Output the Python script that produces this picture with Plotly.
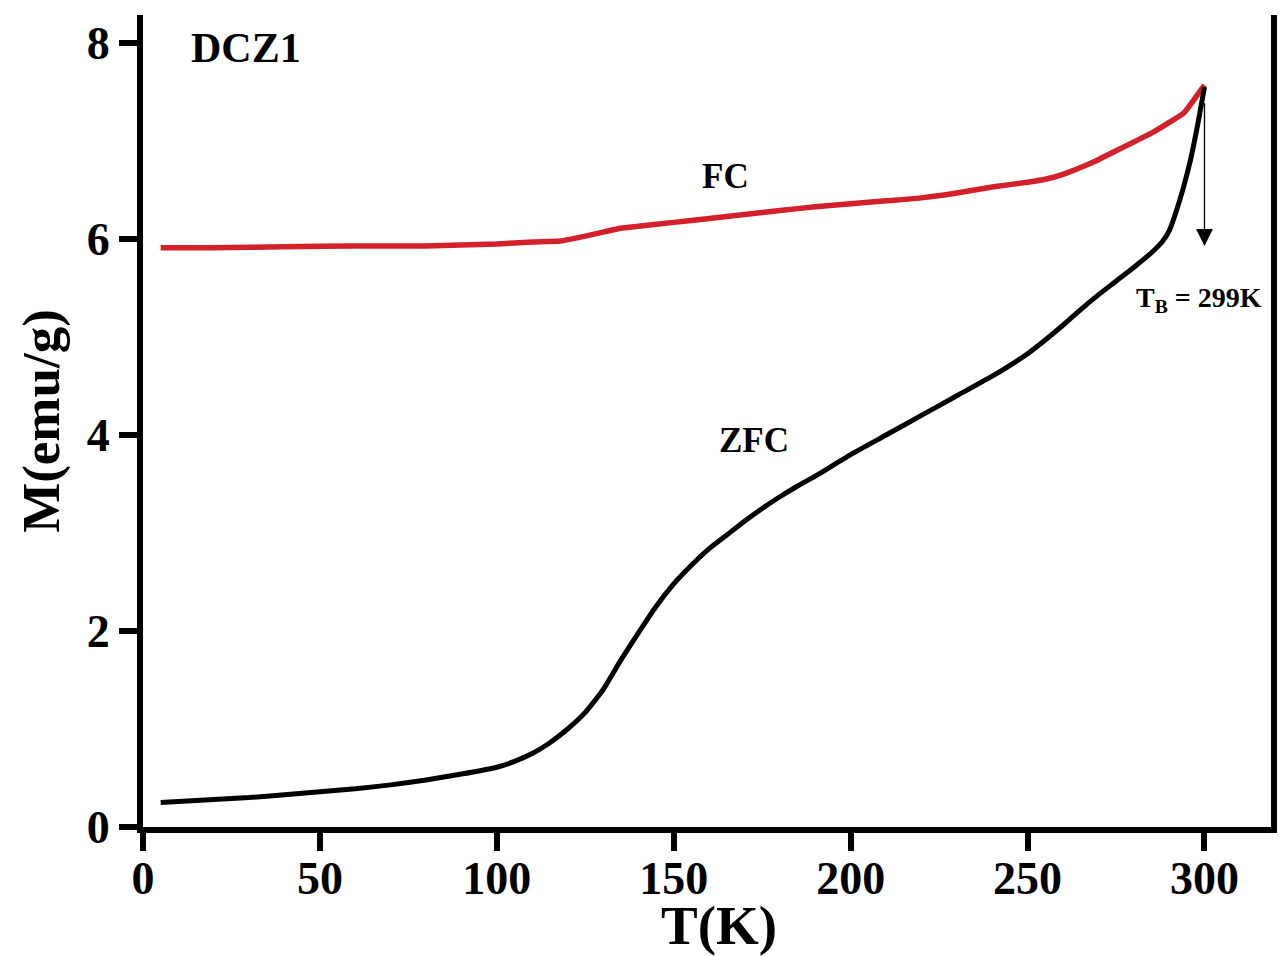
import plotly.graph_objects as go

# Temperature grids (K) and magnetization (emu/g) for the two protocols
T_zfc = [5, 10, 20, 30, 40, 50, 60, 70, 80, 90, 100, 105, 110, 115, 120, 125,
         130, 135, 140, 145, 150, 155, 160, 165, 170, 175, 180, 185, 190, 195,
         200, 210, 220, 230, 240, 250, 255, 260, 265, 270, 275, 280, 285, 288,
         290, 292, 294, 296, 298, 300]
M_zfc = [0.25, 0.26, 0.28, 0.30, 0.33, 0.36, 0.39, 0.43, 0.48, 0.54, 0.61, 0.67,
         0.75, 0.86, 1.00, 1.17, 1.40, 1.70, 1.98, 2.25, 2.48, 2.67, 2.84, 2.98,
         3.12, 3.25, 3.37, 3.48, 3.58, 3.69, 3.80, 4.00, 4.20, 4.40, 4.60, 4.83,
         4.97, 5.12, 5.28, 5.43, 5.57, 5.71, 5.86, 5.97, 6.08, 6.28, 6.52, 6.80,
         7.15, 7.55]

T_fc = [5, 20, 40, 60, 80, 100, 110, 118, 125, 130, 135, 140, 150, 160, 170,
        180, 190, 200, 210, 220, 230, 240, 250, 255, 260, 265, 270, 275, 280,
        285, 290, 294, 297, 300]
M_fc = [5.91, 5.91, 5.92, 5.93, 5.93, 5.95, 5.97, 5.98, 6.03, 6.07, 6.11, 6.13,
        6.17, 6.21, 6.25, 6.29, 6.33, 6.36, 6.39, 6.42, 6.47, 6.53, 6.58, 6.61,
        6.66, 6.73, 6.81, 6.90, 6.99, 7.08, 7.19, 7.28, 7.42, 7.57]

x_ticks = [0, 50, 100, 150, 200, 250, 300]
y_ticks = [0, 2, 4, 6, 8]

T_block = 299          # blocking temperature (K)
arrow_top = 7.40       # arrow start on the curves (emu/g)
arrow_tip = 5.93       # arrow end (emu/g)

FONT = "Liberation Serif"
RED = "#d3202a"

fig = go.Figure()
fig.add_trace(go.Scatter(x=T_fc, y=M_fc, mode="lines", name="FC",
                         line=dict(color=RED, width=5.5, shape="spline", smoothing=0.5)))
fig.add_trace(go.Scatter(x=T_zfc, y=M_zfc, mode="lines", name="ZFC",
                         line=dict(color="black", width=5, shape="spline", smoothing=0.5)))

axis_common = dict(showline=True, linecolor="black", linewidth=6,
                   ticks="outside", ticklen=18, tickwidth=6, tickcolor="black",
                   showgrid=False, zeroline=False,
                   tickfont=dict(family=FONT, size=46, color="black", weight="bold"))

fig.update_xaxes(range=[0, 318.8], tickvals=x_ticks, ticklabelstandoff=-12, **axis_common)
fig.update_yaxes(range=[0, 8.286], tickvals=y_ticks, mirror=True, **axis_common,
                 title=dict(text="M(emu/g)", standoff=12,
                            font=dict(family=FONT, size=53, color="black", weight="bold")))

def label(text, x, y, size):
    fig.add_annotation(x=x, y=y, xref="x", yref="y", text=text, showarrow=False,
                       font=dict(family=FONT, size=size, color="black", weight="bold"))

label("DCZ1", 29.2, 7.95, 42)
label("FC", 164.5, 6.64, 35)
label("ZFC", 172.6, 3.94, 35)
label("T<sub>B</sub> = 299K", 298.5, 5.38, 28)

# x-axis title placed below the tick labels
fig.add_annotation(x=0.511, y=0, xref="paper", yref="paper", yanchor="middle",
                   yshift=-98, text="T(K)", showarrow=False,
                   font=dict(family=FONT, size=55, color="black", weight="bold"))

fig.add_annotation(x=T_block + 1, y=arrow_tip, ax=T_block + 1, ay=arrow_top,
                   xref="x", yref="y", axref="x", ayref="y", text="",
                   showarrow=True, arrowhead=2, arrowsize=2.6, arrowwidth=1.3,
                   arrowcolor="black", standoff=0, startstandoff=0)

fig.update_layout(width=1287, height=956, showlegend=False,
                  paper_bgcolor="white", plot_bgcolor="white",
                  margin=dict(l=143, r=10, t=15, b=129),
                  font=dict(family=FONT, color="black"))

fig.write_html("out.html")
